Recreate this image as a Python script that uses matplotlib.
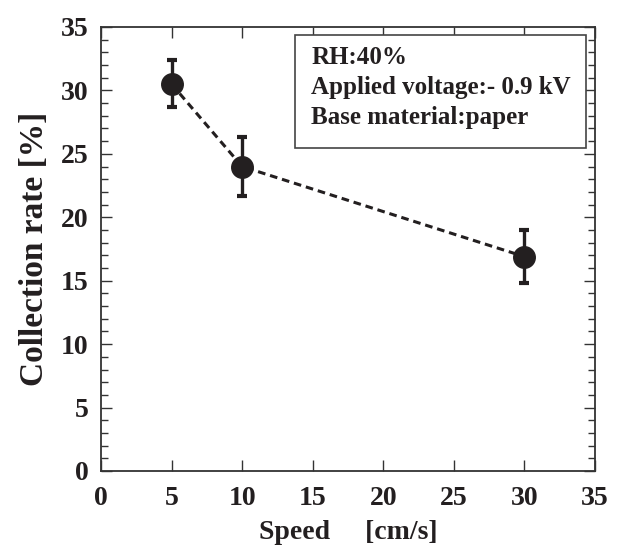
import matplotlib
matplotlib.use('Agg')
import matplotlib.pyplot as plt
import matplotlib.ticker as mticker
from matplotlib.patches import Rectangle

# Data
speed = [5, 10, 30]
rate = [30.5, 24.0, 16.9]
rate_upper = [32.4, 26.3, 19.0]
rate_lower = [28.7, 21.7, 14.8]

info_lines = ['RH:40%', 'Applied voltage:- 0.9 kV', 'Base material:paper']

plt.rcParams['font.family'] = ['Liberation Serif', 'DejaVu Serif']
plt.rcParams['font.weight'] = 'bold'

ink = '#231f20'

fig = plt.figure(figsize=(6.25, 5.51), dpi=100)
ax = fig.add_axes([101 / 625, 80 / 551, 494 / 625, 444 / 551])

yerr = [[r - lo for r, lo in zip(rate, rate_lower)],
        [hi - r for r, hi in zip(rate, rate_upper)]]
ax.errorbar(speed, rate, yerr=yerr, fmt='o', color=ink,
            markersize=15.5, elinewidth=2.4, capsize=3.5, capthick=3, zorder=3)
ax.plot(speed, rate, linestyle=(0, (2.5, 1.6)), color=ink, linewidth=2.2, zorder=2)

ax.set_xlim(0, 35)
ax.set_ylim(0, 35)
ax.xaxis.set_major_locator(mticker.MultipleLocator(5))
ax.yaxis.set_major_locator(mticker.MultipleLocator(5))
ax.yaxis.set_minor_locator(mticker.MultipleLocator(1))
ax.tick_params(axis='both', which='both', direction='in', top=True, right=True,
               labelsize=20, colors='#333333', labelcolor=ink)
ax.tick_params(axis='y', pad=9)
ax.tick_params(axis='x', pad=11)
ax.tick_params(which='major', length=8, width=1)
ax.tick_params(which='minor', length=5, width=1)
for s in ax.spines.values():
    s.set_linewidth(1.3)
    s.set_color('#333333')

ax.set_xlabel('Speed     [cm/s]', fontsize=20, fontweight='bold', color=ink, labelpad=6)
ax.set_ylabel('Collection rate [%]', fontsize=24, fontweight='bold', color=ink, labelpad=8)

# info box
ax.add_patch(Rectangle((0.392, 0.727), 0.59, 0.255, transform=ax.transAxes,
                       facecolor='white', edgecolor='#444444', linewidth=1.2, zorder=4))
ax.text(0.426, 0.957, '\n'.join(info_lines), transform=ax.transAxes, fontsize=18,
        fontweight='bold', color=ink, va='top', ha='left', linespacing=1.38, zorder=5)

plt.savefig('out.png', dpi=100, facecolor='white')
plt.close()
